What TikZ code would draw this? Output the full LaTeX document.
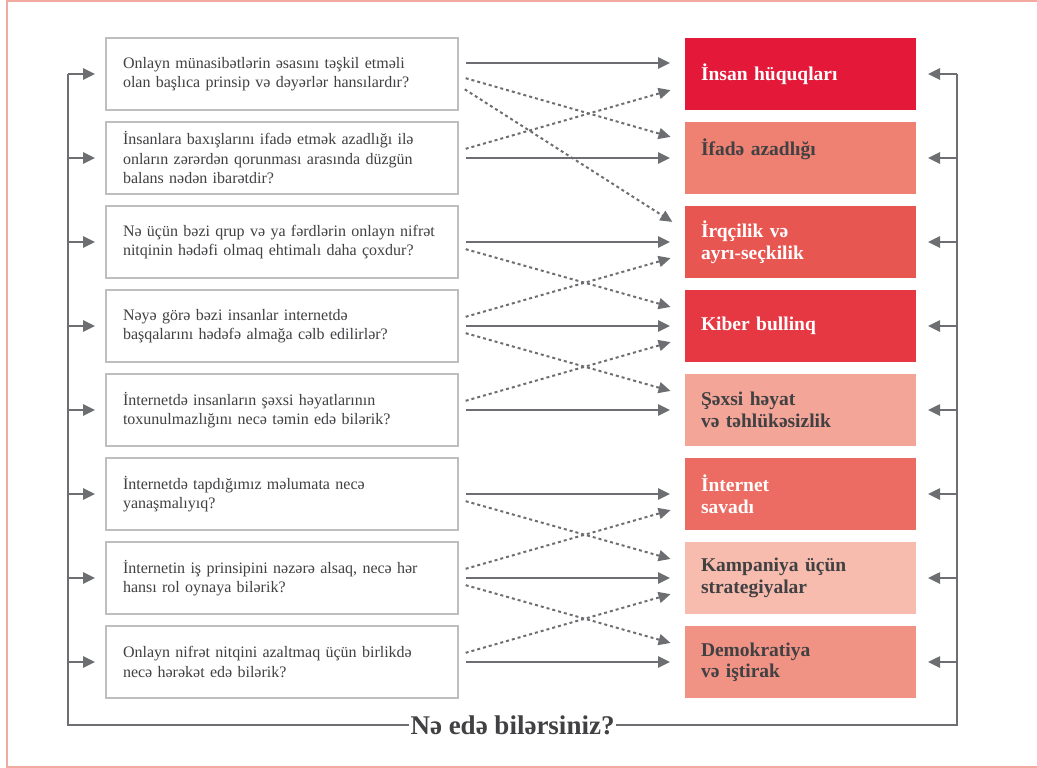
\documentclass[tikz,border=0pt]{standalone}
\usepackage{fontspec}
\setmainfont{Liberation Serif}
\usetikzlibrary{arrows.meta,positioning}
\definecolor{ink}{HTML}{414042}
\definecolor{wire}{HTML}{6D6E71}
\definecolor{edge}{HTML}{BCBEC0}
\definecolor{frame}{HTML}{F1A9A0}
\definecolor{tone1}{HTML}{E4193A}
\definecolor{tone2}{HTML}{EE8172}
\definecolor{tone3}{HTML}{E85652}
\definecolor{tone4}{HTML}{E53843}
\definecolor{tone5}{HTML}{F3A597}
\definecolor{tone6}{HTML}{EC6B62}
\definecolor{tone7}{HTML}{F7BCAE}
\definecolor{tone8}{HTML}{F09284}

\begin{document}
\begin{tikzpicture}[x=1pt, y=1pt,
		qbox/.style={draw=edge, line width=1.3pt, outer sep=0pt, fill=white, minimum width=352pt, minimum height=72pt, text width=318pt, inner xsep=17pt, inner ysep=0pt, align=left, text=ink, font=\fontsize{16}{19.5}\selectfont},
		tbox/.style={outer sep=0pt, minimum width=231pt, minimum height=72pt, text width=199pt, inner xsep=16pt, inner ysep=0pt, align=left, font=\fontsize{19.5}{21.5}\selectfont\bfseries},
		light/.style={tbox, text=white},
		dark/.style={tbox, text=ink},
		arrow/.style={draw=wire, line width=2.5pt, -{Triangle[length=12pt, width=11pt]}, shorten <=8pt, shorten >=15pt},
		dasharrow/.style={arrow, line width=2pt, dash pattern=on 3pt off 3pt},
		backline/.style={draw=wire, line width=2.5pt},
		backarrow/.style={backline, -{Triangle[length=12pt, width=11pt]}},
		ask/.style={fill=white, inner xsep=2pt, text=ink, font=\fontsize{27}{29}\selectfont\bfseries},
	]
		\useasboundingbox (0,0) rectangle (1037,-768);
		\draw[frame, line width=1.5pt] (1037,-1) -- (7,-1) -- (7,-767) -- (1037,-767);

		% questions
		\node (q1) [qbox] at (282,-74) {Onlayn münasibətlərin əsasını təşkil etməli\\olan başlıca prinsip və dəyərlər hansılardır?};
		\node (q2) [qbox, below=12pt of q1] {İnsanlara baxışlarını ifadə etmək azadlığı ilə\\onların zərərdən qorunması arasında düzgün\\balans nədən ibarətdir?};
		\node (q3) [qbox, below=12pt of q2] {Nə üçün bəzi qrup və ya fərdlərin onlayn nifrət\\nitqinin hədəfi olmaq ehtimalı daha çoxdur?};
		\node (q4) [qbox, below=12pt of q3] {Nəyə görə bəzi insanlar internetdə\\başqalarını hədəfə almağa cəlb edilirlər?};
		\node (q5) [qbox, below=12pt of q4] {İnternetdə insanların şəxsi həyatlarının\\toxunulmazlığını necə təmin edə bilərik?};
		\node (q6) [qbox, below=12pt of q5] {İnternetdə tapdığımız məlumata necə\\yanaşmalıyıq?};
		\node (q7) [qbox, below=12pt of q6] {İnternetin iş prinsipini nəzərə alsaq, necə hər\\hansı rol oynaya bilərik?};
		\node (q8) [qbox, below=12pt of q7] {Onlayn nifrət nitqini azaltmaq üçün birlikdə\\necə hərəkət edə bilərik?};

		% themes
		\node (t1) [light, fill=tone1, right=227pt of q1] {İnsan hüquqları};
		\node (t2) [dark, fill=tone2, right=227pt of q2] {İfadə azadlığı\\\mbox{}};
		\node (t3) [light, fill=tone3, right=227pt of q3] {İrqçilik və\\ayrı-seçkilik};
		\node (t4) [light, fill=tone4, right=227pt of q4] {Kiber bullinq};
		\node (t5) [dark, fill=tone5, right=227pt of q5] {Şəxsi həyat\\və təhlükəsizlik};
		\node (t6) [light, fill=tone6, right=227pt of q6] {İnternet\\savadı};
		\node (t7) [dark, fill=tone7, right=227pt of q7] {Kampaniya üçün\\strategiyalar};
		\node (t8) [dark, fill=tone8, right=227pt of q8] {Demokratiya\\və iştirak};

		% solid links
		\draw[arrow, transform canvas={yshift=11pt}] (q1) -- (t1);
		\foreach \i in {2,...,8}
			\draw[arrow] (q\i) -- (t\i);

		% dotted links
		\draw[dasharrow] ([yshift=-2pt]q1.east) -- ([yshift=17pt]t2.west);
		\draw[dasharrow] ([yshift=-11pt]q1.east) -- ([yshift=12pt]t3.west);
		\foreach \a/\b in {3/4,4/5,6/7,7/8}
			\draw[dasharrow] ([yshift=-5pt]q\a.east) -- ([yshift=15pt]t\b.west);
		\foreach \a/\b in {2/1,4/3,5/4,7/6,8/7}
			\draw[dasharrow] ([yshift=7pt]q\a.east) -- ([yshift=-12pt]t\b.west);

		% feedback loop
		\coordinate (lt) at ([xshift=-38pt]q1.west);
		\coordinate (rt) at ([xshift=41pt]t1.east);
		\path (q8.south) ++(0,-27pt) coordinate (bot);
		\draw[backline] (lt) -- (lt |- bot) -- node[ask] (ask) {Nə edə bilərsiniz?} (rt |- bot) -- (rt);
		\foreach \i in {1,...,8} {
			\draw[backarrow] (lt |- q\i.west) -- ([xshift=-11pt]q\i.west);
			\draw[backarrow] (rt |- t\i.east) -- ([xshift=12pt]t\i.east);
		}
	\end{tikzpicture}
\end{document}
